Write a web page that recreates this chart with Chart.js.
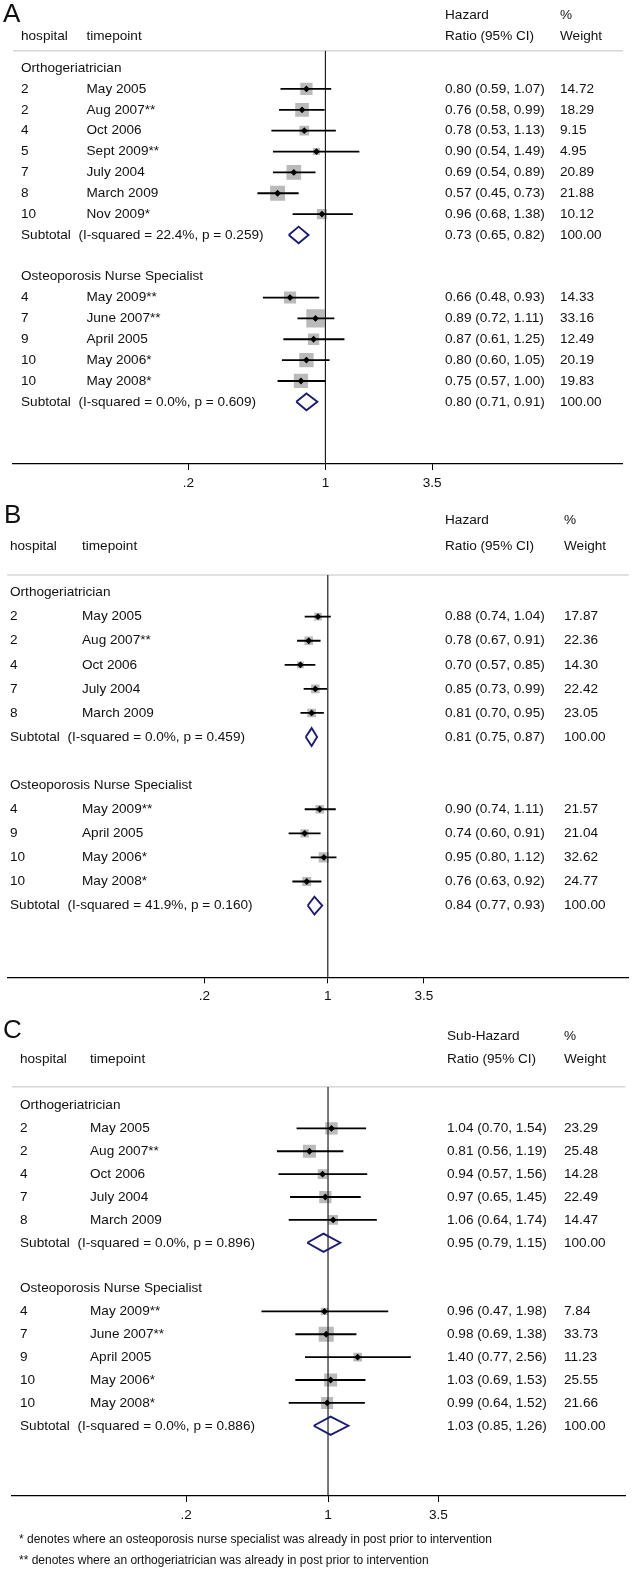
<!DOCTYPE html>
<html>
<head>
<meta charset="utf-8">
<script src="https://cdn.jsdelivr.net/npm/chart.js@4.4.1/dist/chart.umd.min.js"></script>
<style>
  html, body { margin: 0; padding: 0; background: #ffffff; }
  #wrap { position: relative; width: 636px; height: 1569px; overflow: hidden; background: #ffffff; }
  canvas { position: absolute; left: 0; }
</style>
</head>
<body>
<div id="wrap">
  <canvas id="cA" width="636" height="500" style="top:0px"></canvas>
  <canvas id="cB" width="636" height="510" style="top:500px"></canvas>
  <canvas id="cC" width="636" height="559" style="top:1010px"></canvas>
</div>
<script>
// ---------------- DATA ----------------
const groupNames = ['Orthogeriatrician', 'Osteoporosis Nurse Specialist'];
const tickValues = [0.2, 1, 3.5];
const tickLabels = ['.2', '1', '3.5'];
const nullValue = 1;
const footnotes = [
  '* denotes where an osteoporosis nurse specialist was already in post prior to intervention',
  '** denotes where an orthogeriatrician was already in post prior to intervention'
];

// Panel A
const aHospital  = [2, 2, 4, 5, 7, 8, 10, 4, 7, 9, 10, 10];
const aTimepoint = ['May 2005', 'Aug 2007**', 'Oct 2006', 'Sept 2009**', 'July 2004', 'March 2009', 'Nov 2009*',
                    'May 2009**', 'June 2007**', 'April 2005', 'May 2006*', 'May 2008*'];
const aGroup     = [0, 0, 0, 0, 0, 0, 0, 1, 1, 1, 1, 1];
const aHR        = [0.80, 0.76, 0.78, 0.90, 0.69, 0.57, 0.96, 0.66, 0.89, 0.87, 0.80, 0.75];
const aLow       = [0.59, 0.58, 0.53, 0.54, 0.54, 0.45, 0.68, 0.48, 0.72, 0.61, 0.60, 0.57];
const aHigh      = [1.07, 0.99, 1.13, 1.49, 0.89, 0.73, 1.38, 0.93, 1.11, 1.25, 1.05, 1.00];
const aWeight    = [14.72, 18.29, 9.15, 4.95, 20.89, 21.88, 10.12, 14.33, 33.16, 12.49, 20.19, 19.83];
const aSubHR     = [0.73, 0.80];
const aSubLow    = [0.65, 0.71];
const aSubHigh   = [0.82, 0.91];
const aSubISq    = [22.4, 0.0];
const aSubP      = [0.259, 0.609];

// Panel B
const bHospital  = [2, 2, 4, 7, 8, 4, 9, 10, 10];
const bTimepoint = ['May 2005', 'Aug 2007**', 'Oct 2006', 'July 2004', 'March 2009',
                    'May 2009**', 'April 2005', 'May 2006*', 'May 2008*'];
const bGroup     = [0, 0, 0, 0, 0, 1, 1, 1, 1];
const bHR        = [0.88, 0.78, 0.70, 0.85, 0.81, 0.90, 0.74, 0.95, 0.76];
const bLow       = [0.74, 0.67, 0.57, 0.73, 0.70, 0.74, 0.60, 0.80, 0.63];
const bHigh      = [1.04, 0.91, 0.85, 0.99, 0.95, 1.11, 0.91, 1.12, 0.92];
const bWeight    = [17.87, 22.36, 14.30, 22.42, 23.05, 21.57, 21.04, 32.62, 24.77];
const bSubHR     = [0.81, 0.84];
const bSubLow    = [0.75, 0.77];
const bSubHigh   = [0.87, 0.93];
const bSubISq    = [0.0, 41.9];
const bSubP      = [0.459, 0.160];

// Panel C
const cHospital  = [2, 2, 4, 7, 8, 4, 7, 9, 10, 10];
const cTimepoint = ['May 2005', 'Aug 2007**', 'Oct 2006', 'July 2004', 'March 2009',
                    'May 2009**', 'June 2007**', 'April 2005', 'May 2006*', 'May 2008*'];
const cGroup     = [0, 0, 0, 0, 0, 1, 1, 1, 1, 1];
const cHR        = [1.04, 0.81, 0.94, 0.97, 1.06, 0.96, 0.98, 1.40, 1.03, 0.99];
const cLow       = [0.70, 0.56, 0.57, 0.65, 0.64, 0.47, 0.69, 0.77, 0.69, 0.64];
const cHigh      = [1.54, 1.19, 1.56, 1.45, 1.74, 1.98, 1.38, 2.56, 1.53, 1.52];
const cWeight    = [23.29, 25.48, 14.28, 22.49, 14.47, 7.84, 33.73, 11.23, 25.55, 21.66];
const cSubHR     = [0.95, 1.03];
const cSubLow    = [0.79, 0.85];
const cSubHigh   = [1.15, 1.26];
const cSubISq    = [0.0, 0.0];
const cSubP      = [0.896, 0.886];

// ---------------- STYLE / LAYOUT ----------------
const FONT = '"Liberation Sans", Arial, Helvetica, sans-serif';
const TEXT_SIZE = 13.6;
const TEXT_COLOR = '#111111';
const BOX_COLOR = '#bababa';
const DIAMOND_COLOR = '#1c1c72';

const panels = [
  {
    canvas: 'cA', letter: 'A', ratioHead: 'Hazard',
    hospital: aHospital, timepoint: aTimepoint, group: aGroup, hr: aHR, low: aLow, high: aHigh, weight: aWeight,
    subHR: aSubHR, subLow: aSubLow, subHigh: aSubHigh, subISq: aSubISq, subP: aSubP,
    xMin: 0.02551, xMax: 32.92, yTop: -0.834, yBottom: 18.98,
    pad: { left: 12, right: 8, top: 50.7, bottom: 6 },
    boxK: 3.2, dh: 0.4,
    tx: { hosp: 21, time: 86.5, hr: 445, wt: 560 },
    letterX: 3, letterY: 15, head1Y: 15, head2Y: 36, foot: false
  },
  {
    canvas: 'cB', letter: 'B', ratioHead: 'Hazard',
    hospital: bHospital, timepoint: bTimepoint, group: bGroup, hr: bHR, low: bLow, high: bHigh, weight: bWeight,
    subHR: bSubHR, subLow: bSubLow, subHigh: bSubHigh, subISq: bSubISq, subP: bSubP,
    xMin: 0.01531, xMax: 50.6, yTop: -0.73, yBottom: 15.98,
    pad: { left: 2, right: 2, top: 75, bottom: 2.7 },
    boxK: 1.8, dh: 0.37,
    tx: { hosp: 10, time: 82, hr: 445, wt: 564 },
    letterX: 4, letterY: 16, head1Y: 20.5, head2Y: 46, foot: false
  },
  {
    canvas: 'cC', letter: 'C', ratioHead: 'Sub-Hazard',
    hospital: cHospital, timepoint: cTimepoint, group: cGroup, hr: cHR, low: cLow, high: cHigh, weight: cWeight,
    subHR: cSubHR, subLow: cSubLow, subHigh: cSubHigh, subISq: cSubISq, subP: cSubP,
    xMin: 0.02772, xMax: 29.2, yTop: -0.822, yBottom: 17.07,
    pad: { left: 12, right: 8, top: 76.7, bottom: 43 },
    boxK: 2.58, dh: 0.4,
    tx: { hosp: 20, time: 90, hr: 447, wt: 564 },
    letterX: 3, letterY: 21, head1Y: 26.7, head2Y: 49, foot: true, footY: [530, 551], footX: 19
  }
];

function layoutRows(P) {
  // rows: group header, studies, subtotal, blank line
  let row = 0;
  const headRow = [], subRow = [], studyRow = new Array(P.hr.length);
  for (let g = 0; g < groupNames.length; g++) {
    headRow[g] = row++;
    for (let i = 0; i < P.hr.length; i++) {
      if (P.group[i] === g) studyRow[i] = row++;
    }
    subRow[g] = row++;
    row++;
  }
  return { headRow, subRow, studyRow };
}

function buildPanel(P) {
  const R = layoutRows(P);
  const datasets = [];

  // point estimates (drawn on top)
  datasets.push({
    type: 'scatter', order: 0,
    data: P.hr.map((v, i) => ({ x: v, y: R.studyRow[i] })),
    pointStyle: 'rectRot', pointRadius: 3.4, pointBackgroundColor: '#000', pointBorderWidth: 0
  });
  // pooled (subtotal) diamonds
  P.subHR.forEach((v, g) => {
    const r = R.subRow[g];
    datasets.push({
      type: 'scatter', order: 1, showLine: true,
      data: [
        { x: P.subLow[g], y: r }, { x: v, y: r - P.dh }, { x: P.subHigh[g], y: r },
        { x: v, y: r + P.dh }, { x: P.subLow[g], y: r }
      ],
      borderColor: DIAMOND_COLOR, borderWidth: 1.9, pointRadius: 0, fill: false, tension: 0,
      borderJoinStyle: 'miter'
    });
  });
  // confidence intervals
  P.hr.forEach((v, i) => {
    datasets.push({
      type: 'scatter', order: 2, showLine: true,
      data: [{ x: P.low[i], y: R.studyRow[i] }, { x: P.high[i], y: R.studyRow[i] }],
      borderColor: '#000', borderWidth: 1.8, pointRadius: 0, fill: false
    });
  });
  // null line
  datasets.push({
    type: 'scatter', order: 3, showLine: true,
    data: [{ x: nullValue, y: P.yTop }, { x: nullValue, y: P.yBottom }],
    borderColor: '#1e1e1e', borderWidth: 1.2, pointRadius: 0, fill: false
  });
  // weight boxes
  datasets.push({
    type: 'scatter', order: 4,
    data: P.hr.map((v, i) => ({ x: v, y: R.studyRow[i] })),
    pointStyle: 'rect',
    pointRadius: P.weight.map(w => P.boxK * Math.sqrt(w) / Math.SQRT2),
    pointBackgroundColor: BOX_COLOR, pointBorderWidth: 0
  });

  const textPlugin = {
    id: 'forestText',
    beforeDatasetsDraw(chart) {
      const ctx = chart.ctx, a = chart.chartArea;
      ctx.save();
      ctx.strokeStyle = '#d6d6d6';
      ctx.lineWidth = 1.6;
      ctx.beginPath();
      ctx.moveTo(a.left, a.top);
      ctx.lineTo(a.right, a.top);
      ctx.stroke();
      ctx.restore();
    },
    afterDatasetsDraw(chart) {
      const ctx = chart.ctx;
      const ys = chart.scales.y;
      ctx.save();
      ctx.fillStyle = TEXT_COLOR;
      ctx.textBaseline = 'middle';
      ctx.textAlign = 'left';
      // panel letter
      ctx.font = '26px ' + FONT;
      ctx.fillText(P.letter, P.letterX, P.letterY);
      // column headers
      ctx.font = TEXT_SIZE + 'px ' + FONT;
      ctx.fillText('hospital', P.tx.hosp, P.head2Y);
      ctx.fillText('timepoint', P.tx.time, P.head2Y);
      ctx.fillText(P.ratioHead, P.tx.hr, P.head1Y);
      ctx.fillText('Ratio (95% CI)', P.tx.hr, P.head2Y);
      ctx.fillText('%', P.tx.wt, P.head1Y);
      ctx.fillText('Weight', P.tx.wt, P.head2Y);
      // group headers & subtotals
      groupNames.forEach((name, g) => {
        ctx.fillText(name, P.tx.hosp, ys.getPixelForValue(R.headRow[g]));
        const ySub = ys.getPixelForValue(R.subRow[g]);
        ctx.fillText('Subtotal  (I-squared = ' + P.subISq[g].toFixed(1) + '%, p = ' + P.subP[g].toFixed(3) + ')', P.tx.hosp, ySub);
        ctx.fillText(P.subHR[g].toFixed(2) + ' (' + P.subLow[g].toFixed(2) + ', ' + P.subHigh[g].toFixed(2) + ')', P.tx.hr, ySub);
        ctx.fillText((100).toFixed(2), P.tx.wt, ySub);
      });
      // study rows
      P.hr.forEach((v, i) => {
        const y = ys.getPixelForValue(R.studyRow[i]);
        ctx.fillText(String(P.hospital[i]), P.tx.hosp, y);
        ctx.fillText(P.timepoint[i], P.tx.time, y);
        ctx.fillText(v.toFixed(2) + ' (' + P.low[i].toFixed(2) + ', ' + P.high[i].toFixed(2) + ')', P.tx.hr, y);
        ctx.fillText(P.weight[i].toFixed(2), P.tx.wt, y);
      });
      if (P.foot) {
        ctx.font = '12px ' + FONT;
        footnotes.forEach((f, k) => ctx.fillText(f, P.footX, P.footY[k]));
      }
      ctx.restore();
    }
  };

  new Chart(document.getElementById(P.canvas), {
    type: 'scatter',
    data: { datasets },
    options: {
      responsive: false,
      animation: false,
      devicePixelRatio: 1,
      events: [],
      layout: { padding: P.pad },
      plugins: { legend: { display: false }, tooltip: { enabled: false } },
      scales: {
        x: {
          type: 'logarithmic', position: 'bottom', min: P.xMin, max: P.xMax,
          afterBuildTicks: (s) => { s.ticks = tickValues.map(v => ({ value: v })); },
          afterFit: (s) => { s.height = 30; },
          ticks: {
            autoSkip: false, maxRotation: 0, padding: 5, color: TEXT_COLOR,
            font: { family: FONT, size: TEXT_SIZE },
            callback: (v, i) => tickLabels[i]
          },
          grid: { display: true, drawOnChartArea: false, drawTicks: true, tickLength: 6, color: '#000', lineWidth: 1 },
          border: { display: true, color: '#000', width: 1.2 }
        },
        y: { type: 'linear', reverse: true, min: P.yTop, max: P.yBottom, display: false }
      }
    },
    plugins: [textPlugin]
  });
}

panels.forEach(buildPanel);
</script>
</body>
</html>
